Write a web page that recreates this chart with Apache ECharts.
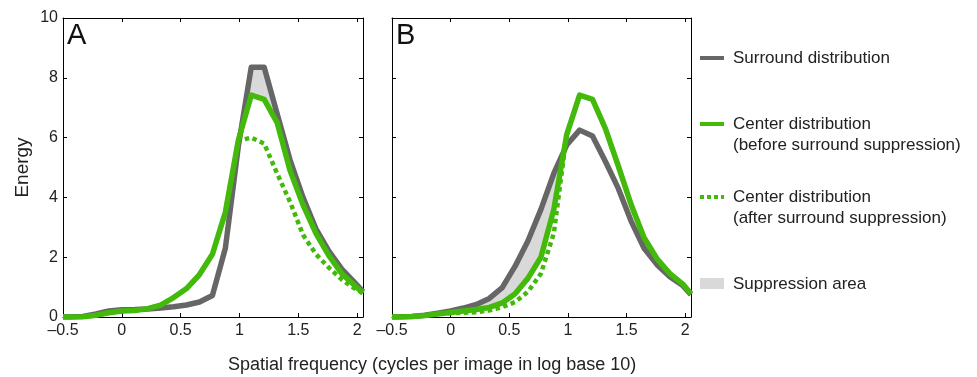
<!DOCTYPE html>
<html>
<head>
<meta charset="utf-8">
<script src="https://cdn.jsdelivr.net/npm/echarts@6/dist/echarts.min.js"></script>
<style>
  html, body { margin: 0; padding: 0; background: #fff; }
  #chart { width: 977px; height: 377px; }
</style>
</head>
<body>
<div id="chart"></div>
<script>
// log10 spatial frequency samples (shared by both panels)
const freq = [-0.5, -0.44, -0.33, -0.22, -0.11, 0, 0.11, 0.22, 0.33, 0.44, 0.55, 0.66, 0.77, 0.88, 0.99, 1.1, 1.21, 1.32, 1.43, 1.54, 1.65, 1.76, 1.87, 1.98, 2.05];

// panel A
const surroundA = [0, 0, 0.02, 0.1, 0.2, 0.24, 0.25, 0.27, 0.3, 0.34, 0.4, 0.5, 0.72, 2.3, 5.7, 8.35, 8.35, 6.8, 5.25, 4.0, 2.95, 2.2, 1.6, 1.15, 0.85];
const centerA = [0, 0, 0.01, 0.06, 0.14, 0.2, 0.22, 0.28, 0.4, 0.65, 0.95, 1.42, 2.1, 3.5, 5.9, 7.42, 7.28, 6.5, 4.9, 3.75, 2.8, 2.05, 1.45, 1.05, 0.8];
const afterA = [0, 0, 0.01, 0.06, 0.14, 0.2, 0.22, 0.28, 0.4, 0.65, 0.95, 1.42, 2.1, 3.5, 5.9, 6.0, 5.8, 4.8, 3.85, 2.75, 2.1, 1.65, 1.25, 0.95, 0.8];

// panel B
const surroundB = [0, 0, 0.02, 0.06, 0.13, 0.2, 0.3, 0.42, 0.62, 0.98, 1.7, 2.55, 3.6, 4.8, 5.75, 6.25, 6.05, 5.2, 4.3, 3.2, 2.3, 1.75, 1.35, 1.05, 0.75];
const centerB = [0, 0, 0.02, 0.05, 0.1, 0.15, 0.2, 0.25, 0.32, 0.47, 0.78, 1.3, 2.0, 3.6, 6.1, 7.42, 7.28, 6.3, 5.05, 3.75, 2.65, 1.95, 1.45, 1.1, 0.78];
const afterB = [0, 0, 0.02, 0.05, 0.1, 0.13, 0.14, 0.16, 0.22, 0.33, 0.5, 0.85, 1.45, 2.8, 6.1, 7.42, 7.28, 6.3, 5.05, 3.75, 2.65, 1.95, 1.45, 1.1, 0.78];

const xTicks = [-0.5, 0, 0.5, 1, 1.5, 2];

const GRAY = '#666666';
const GREEN = '#42b90b';
const FILL = '#d9d9d9';
const FONT = '"Liberation Sans", Arial, sans-serif';

const chart = echarts.init(document.getElementById('chart'));

function pairs(ys) {
  return freq.map((x, i) => [x, ys[i]]);
}
// segments [x0, top0, bot0, x1, top1, bot1] for the suppression band
function bandSegments(top, base) {
  const out = [];
  for (let i = 0; i < freq.length - 1; i++) {
    out.push([freq[i], top[i], base[i], freq[i + 1], top[i + 1], base[i + 1]]);
  }
  return out;
}

function renderBand(params, api) {
  const x0 = api.value(0), t0 = api.value(1), b0 = api.value(2);
  const x1 = api.value(3), t1 = api.value(4), b1 = api.value(5);
  if (t0 <= b0 && t1 <= b1) return null;
  let pts;
  if (t0 > b0 && t1 > b1) {
    pts = [api.coord([x0, t0]), api.coord([x1, t1]), api.coord([x1, b1]), api.coord([x0, b0])];
  } else {
    // lines cross inside the segment: keep the part where surround is above
    const d0 = t0 - b0, d1 = t1 - b1;
    const f = d0 / (d0 - d1);
    const xc = x0 + f * (x1 - x0), yc = b0 + f * (b1 - b0);
    if (d0 > 0) {
      pts = [api.coord([x0, t0]), api.coord([xc, yc]), api.coord([x0, b0])];
    } else {
      pts = [api.coord([xc, yc]), api.coord([x1, t1]), api.coord([x1, b1])];
    }
  }
  return { type: 'polygon', shape: { points: pts }, style: { fill: FILL, stroke: FILL, lineWidth: 0.6 } };
}

function fmtX(v) {
  const hit = xTicks.find(t => Math.abs(t - v) < 1e-6);
  if (hit === undefined) return '';
  return hit < 0 ? '\u2013' + (-hit) : String(hit);
}

function xAxis(grid, pos) {
  return {
    type: 'value', gridIndex: grid, position: pos,
    min: -0.5, max: 2.05, interval: 0.5,
    axisLine: { show: true, onZero: false, lineStyle: { color: '#000', width: 1 } },
    axisTick: { show: true, inside: true, length: 4, lineStyle: { color: '#000' } },
    axisLabel: { show: pos === 'bottom', margin: 6, fontSize: 16, color: '#222', fontFamily: FONT, formatter: fmtX },
    splitLine: { show: false }
  };
}

function yAxis(grid, pos, labels) {
  return {
    type: 'value', gridIndex: grid, position: pos,
    min: 0, max: 10, interval: 2,
    axisLine: { show: true, onZero: false, lineStyle: { color: '#000', width: 1 } },
    axisTick: { show: true, inside: true, length: 4, lineStyle: { color: '#000' } },
    axisLabel: { show: labels, margin: 5, fontSize: 16, color: '#222', fontFamily: FONT },
    splitLine: { show: false },
    name: labels ? 'Energy' : '',
    nameLocation: 'middle', nameGap: 31,
    nameTextStyle: { fontSize: 19, color: '#222', fontFamily: FONT }
  };
}

function panelSeries(idx, surround, center, after) {
  const ax = { xAxisIndex: idx * 2, yAxisIndex: idx * 2 };
  const common = { type: 'line', symbol: 'none', smooth: false, silent: true };
  return [
    Object.assign({}, ax, {
      type: 'custom', name: 'Suppression area', silent: true,
      renderItem: renderBand, data: bandSegments(surround, center),
      encode: { x: [0, 3], y: [1, 2, 4, 5] }
    }),
    Object.assign({}, common, ax, {
      name: 'Center distribution (after surround suppression)', data: pairs(after),
      lineStyle: { color: GREEN, width: 4.5, type: [4.5, 3.5] }
    }),
    Object.assign({}, common, ax, {
      name: 'Surround distribution', data: pairs(surround),
      lineStyle: { color: GRAY, width: 5.5, join: 'round' }
    }),
    Object.assign({}, common, ax, {
      name: 'Center distribution (before surround suppression)', data: pairs(center),
      lineStyle: { color: GREEN, width: 5.5, join: 'round' }
    })
  ];
}

function legendLabel(y, text) {
  return { type: 'text', left: 733, top: y - 10,
    style: { text: text, lineHeight: 21, fontSize: 17, fill: '#222', fontFamily: FONT } };
}

const option = {
  animation: false,
  grid: [
    { left: 63, top: 18, width: 300, height: 299 },
    { left: 392, top: 18, width: 299, height: 299 }
  ],
  xAxis: [xAxis(0, 'bottom'), xAxis(0, 'top'), xAxis(1, 'bottom'), xAxis(1, 'top')],
  yAxis: [yAxis(0, 'left', true), yAxis(0, 'right', false), yAxis(1, 'left', false), yAxis(1, 'right', false)],
  series: [].concat(
    panelSeries(0, surroundA, centerA, afterA),
    panelSeries(1, surroundB, centerB, afterB)
  ),
  graphic: [
    { type: 'text', left: 67, top: 21, style: { text: 'A', fontSize: 29, fill: '#111', fontFamily: FONT } },
    { type: 'text', left: 396, top: 21, style: { text: 'B', fontSize: 29, fill: '#111', fontFamily: FONT } },
    { type: 'text', left: 228, top: 356,
      style: { text: 'Spatial frequency (cycles per image in log base 10)', fontSize: 18, fill: '#222', fontFamily: FONT } },
    // legend
    { type: 'line', shape: { x1: 700, y1: 58, x2: 724, y2: 58 }, style: { stroke: GRAY, lineWidth: 4 } },
    legendLabel(58, 'Surround distribution'),
    { type: 'line', shape: { x1: 700, y1: 124, x2: 724, y2: 124 }, style: { stroke: GREEN, lineWidth: 4 } },
    legendLabel(124, 'Center distribution\n(before surround suppression)'),
    { type: 'line', shape: { x1: 700, y1: 197, x2: 724, y2: 197 }, style: { stroke: GREEN, lineWidth: 4, lineDash: [4, 3] } },
    legendLabel(197, 'Center distribution\n(after surround suppression)'),
    { type: 'rect', shape: { x: 700, y: 278, width: 24, height: 11 }, style: { fill: FILL } },
    legendLabel(284, 'Suppression area')
  ]
};

chart.setOption(option);
</script>
</body>
</html>
